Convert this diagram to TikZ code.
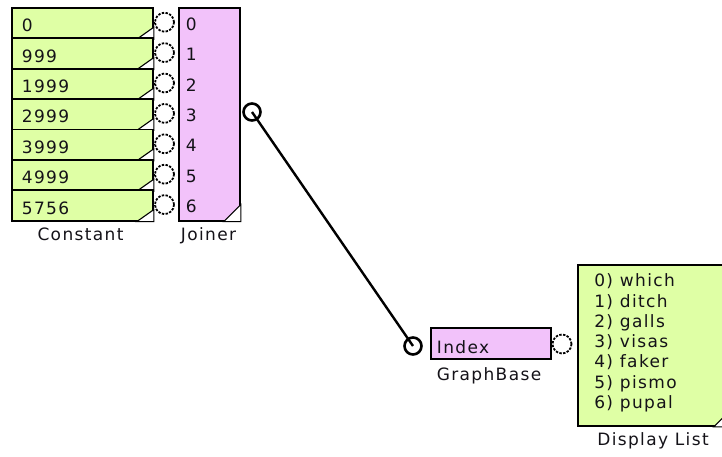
\documentclass[tikz,border=0pt]{standalone}
\usepackage{fontspec}
\setmainfont{DejaVu Sans}[LetterSpace=8]
\usepackage{tikz}
\usetikzlibrary{calc,positioning}
\definecolor{cl-green}{HTML}{DFFFA5}
\definecolor{cl-pink}{HTML}{F2C2FA}
\definecolor{cl-text}{HTML}{141218}

\begin{document}
\begin{tikzpicture}[x=1pt, y=-1pt, line width=1.8pt,
    box/.style={draw, anchor=north west, inner sep=0pt},
    txt/.style={inner sep=0pt, text=cl-text, font=\fontsize{17}{20}\selectfont},
    corner/.style={fill=white, line width=1.1pt},
    port/.style={circle, draw, fill=white, line width=1.8pt, dash pattern=on 2.4pt off 1.4pt, minimum size=19pt, inner sep=0pt},
    inport/.style={circle, draw, line width=2.6pt, minimum size=17pt, inner sep=0pt}]
    \useasboundingbox (0,0) rectangle (722,456);
    \clip (0,0) rectangle (722,456);
    % Constant blocks and their output ports
    \foreach \i/\v in {0/0, 1/999, 2/1999, 3/2999, 4/3999, 5/4999, 6/5756} {
        \node[box, fill=cl-green, minimum width=141pt, minimum height=30.4pt] (c\i) at (11, 7+30.4*\i) {};
        \node[txt, anchor=base west] (cv\i) at ($(c\i.south west)+(10,-7.5)$) {\v};
        \filldraw[corner] (c\i.south east) -- ++(-17,0) -- ++(17,-12) -- cycle;
        \draw[line width=1.4pt] (c\i.east) -- ++(5,0);
        \node[port] (cp\i) at (164.5, 22.2+30.4*\i) {};
    }
    \node[txt, anchor=base] (clbl) at (80.5,240.5) {Constant};
    % Joiner block
    \node[box, fill=cl-pink, minimum width=61pt, minimum height=212.8pt] (join) at (178,7) {};
    \foreach \i in {0,...,6}
        \node[txt, anchor=base west] (jl\i) at (185, 30.2+30.4*\i) {\i};
    \filldraw[corner] (join.south east) -- ++(-17,0) -- ++(17,-17) -- cycle;
    \node[inport] (jout) at (252,112) {};
    \node[txt, anchor=base] (jlbl) at (208.5,240.5) {Joiner};
    % GraphBase block
    \node[box, fill=cl-pink, minimum width=120pt, minimum height=31pt] (gb) at (430,327) {};
    \node[txt, anchor=base west] (gbv) at (436,353) {Index};
    \node[inport] (gin) at (413,346) {};
    \node[port] (gout) at (562,344) {};
    \node[txt, anchor=base] (gblbl) at (489,380.5) {GraphBase};
    % Display List block
    \node[box, fill=cl-green, minimum width=152pt, minimum height=161pt] (dl) at (577,264) {};
    \foreach \i/\w in {0/which, 1/ditch, 2/galls, 3/visas, 4/faker, 5/pismo, 6/pupal} {
        \node[txt, anchor=base east] (dn\i) at (614, 286.7+20.3*\i) {\i)};
        \node[txt, anchor=base west] (dw\i) at (619, 286.7+20.3*\i) {\w};
    }
    \filldraw[corner] (dl.south east) -- ++(-17,0) -- ++(17,-17) -- cycle;
    \node[txt, anchor=base] (dllbl) at (653,445) {Display List};
    % wire from Joiner to GraphBase
    \draw[line width=2.4pt] (jout.center) -- (gin.center);
\end{tikzpicture}
\end{document}
